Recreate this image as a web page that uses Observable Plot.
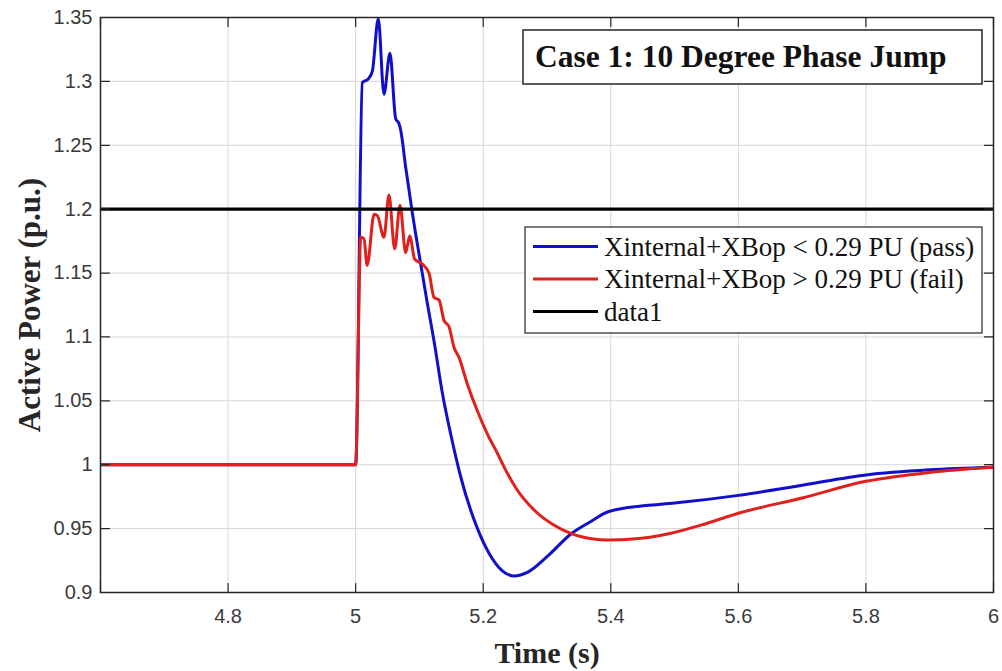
<!DOCTYPE html>
<html>
<head>
<meta charset="utf-8">
<script src="https://cdn.jsdelivr.net/npm/d3@7"></script>
<script src="https://cdn.jsdelivr.net/npm/@observablehq/plot@0.6"></script>
<style>
  html, body { margin: 0; padding: 0; background: #fff; }
  #chart svg { display: block; }
</style>
</head>
<body>
<div id="chart"></div>
<script>
// ---- data ----
const passTime  = [4.6, 5.0, 5.0105, 5.02, 5.0262, 5.0355, 5.0444, 5.0538, 5.0627, 5.0679, 5.0706, 5.0784, 5.0889, 5.102, 5.1125, 5.12, 5.1228, 5.136, 5.149, 5.165, 5.191, 5.21, 5.23, 5.248, 5.27, 5.3, 5.338, 5.37, 5.39, 5.42, 5.455, 5.5, 5.6, 5.7, 5.8, 5.9, 6.0];
const passPower = [1.0, 1.0, 1.299, 1.302, 1.308, 1.349, 1.290, 1.322, 1.271, 1.267, 1.262, 1.233, 1.197, 1.157, 1.126, 1.105, 1.097, 1.056, 1.024, 0.99, 0.95, 0.93, 0.917, 0.913, 0.916, 0.928, 0.946, 0.956, 0.962, 0.966, 0.968, 0.970, 0.976, 0.984, 0.992, 0.996, 0.998];

const failTime  = [4.6, 5.0, 5.008, 5.013, 5.018, 5.029, 5.034, 5.0444, 5.0522, 5.0612, 5.0695, 5.0784, 5.0847, 5.0925, 5.1046, 5.115, 5.1228, 5.1307, 5.1385, 5.1464, 5.1542, 5.162, 5.1752, 5.1909, 5.2066, 5.2222, 5.235, 5.251, 5.281, 5.31, 5.338, 5.37, 5.395, 5.44, 5.491, 5.55, 5.6, 5.7, 5.8, 5.9, 6.0];
const failPower = [1.0, 1.0, 1.178, 1.177, 1.156, 1.196, 1.195, 1.178, 1.211, 1.169, 1.203, 1.166, 1.179, 1.161, 1.157, 1.150, 1.131, 1.129, 1.113, 1.108, 1.092, 1.084, 1.063, 1.042, 1.024, 1.009, 0.996, 0.982, 0.964, 0.953, 0.946, 0.942, 0.941, 0.942, 0.946, 0.954, 0.962, 0.974, 0.987, 0.994, 0.998];

const refLevel = [1.2];

const xDomain = [4.6, 6];
const yDomain = [0.9, 1.35];
const xTicks = [4.6, 4.8, 5.0, 5.2, 5.4, 5.6, 5.8, 6.0];
const xTickLabels = ["", "4.8", "5", "5.2", "5.4", "5.6", "5.8", "6"];
const yTicks = [0.9, 0.95, 1.0, 1.05, 1.1, 1.15, 1.2, 1.25, 1.3, 1.35];
const yTickLabels = ["0.9", "0.95", "1", "1.05", "1.1", "1.15", "1.2", "1.25", "1.3", "1.35"];

const seriesNames = ["Xinternal+XBop < 0.29 PU (pass)", "Xinternal+XBop > 0.29 PU (fail)", "data1"];
const seriesColors = ["#1010cc", "#e0201c", "#000000"];
const titleText = "Case 1: 10 Degree Phase Jump";
const xLabel = "Time (s)";
const yLabel = "Active Power (p.u.)";

// ---- tables ----
const passData = passTime.map((t, i) => ({t, p: passPower[i]}));
const failData = failTime.map((t, i) => ({t, p: failPower[i]}));
const xFmt = d => xTickLabels[xTicks.findIndex(v => Math.abs(v - d) < 1e-9)];
const yFmt = d => yTickLabels[yTicks.findIndex(v => Math.abs(v - d) < 1e-9)];

const serif = "'Liberation Serif', 'Times New Roman', serif";
const sans = "'Liberation Sans', Arial, Helvetica, sans-serif";
const tickShape = {draw(context, l) { context.moveTo(0, 0); context.lineTo(0, -l); }};
const tickStyle = {length: 9, anchor: "start", shape: tickShape, stroke: "#262626", strokeWidth: 1.2};

const chart = Plot.plot({
  width: 1002,
  height: 671,
  marginLeft: 100,
  marginRight: 9,
  marginTop: 17,
  marginBottom: 79,
  x: {domain: xDomain},
  y: {domain: yDomain},
  style: {background: "#fff", fontFamily: sans},
  marks: [
    Plot.gridX(xTicks, {stroke: "#d6d6d6", strokeOpacity: 1, strokeWidth: 1}),
    Plot.gridY(yTicks, {stroke: "#d6d6d6", strokeOpacity: 1, strokeWidth: 1}),
    Plot.line(passData, {x: "t", y: "p", stroke: seriesColors[0], strokeWidth: 3, clip: true, curve: "monotone-x"}),
    Plot.line(failData, {x: "t", y: "p", stroke: seriesColors[1], strokeWidth: 3, clip: true, curve: "monotone-x"}),
    Plot.ruleY(refLevel, {stroke: seriesColors[2], strokeWidth: 3.2}),
    Plot.frame({stroke: "#262626", strokeWidth: 1.5}),
    // inward ticks on all four sides
    Plot.vector(xTicks, {x: d => d, y: () => yDomain[0], rotate: 0, ...tickStyle}),
    Plot.vector(xTicks, {x: d => d, y: () => yDomain[1], rotate: 180, ...tickStyle}),
    Plot.vector(yTicks, {x: () => xDomain[0], y: d => d, rotate: 90, ...tickStyle}),
    Plot.vector(yTicks, {x: () => xDomain[1], y: d => d, rotate: -90, ...tickStyle}),
    // tick labels
    Plot.axisX(xTicks, {anchor: "bottom", tickSize: 0, tickPadding: 16, tickFormat: xFmt, label: null, fontSize: 20, fill: "#3a3a3a", fontFamily: sans}),
    Plot.axisY(yTicks, {anchor: "left", tickSize: 0, tickPadding: 8, tickFormat: yFmt, label: null, fontSize: 20, fill: "#3a3a3a", fontFamily: sans}),
    // axis titles
    Plot.text([xLabel], {frameAnchor: "bottom", dy: 70, textAnchor: "middle", text: d => d, fontFamily: serif, fontWeight: "bold", fontSize: 30, fill: "#262626"}),
    Plot.text([yLabel], {frameAnchor: "left", dx: -70, rotate: -90, textAnchor: "middle", lineAnchor: "middle", text: d => d, fontFamily: serif, fontWeight: "bold", fontSize: 31, fill: "#262626"})
  ]
});

// ---- title box and legend (overlay, pixel layout) ----
const svg = d3.select(chart);
const tb = svg.append("g").attr("class", "title-box").attr("text-anchor", "start");
tb.append("rect").attr("x", 523).attr("y", 30).attr("width", 459).attr("height", 54)
  .attr("fill", "#fff").attr("stroke", "#262626").attr("stroke-width", 1.5);
tb.append("text").attr("x", 535).attr("y", 67).attr("text-anchor", "start").text(titleText)
  .attr("font-family", serif).attr("font-weight", "bold").attr("font-size", 31.5).attr("fill", "#111");

const lg = svg.append("g").attr("class", "legend").attr("text-anchor", "start");
lg.append("rect").attr("x", 525).attr("y", 227).attr("width", 457).attr("height", 106)
  .attr("fill", "#fff").attr("stroke", "#262626").attr("stroke-width", 1.2);
seriesNames.forEach((name, i) => {
  const cy = 246.5 + i * 32.5;
  lg.append("line").attr("x1", 533).attr("x2", 598).attr("y1", cy).attr("y2", cy)
    .attr("stroke", seriesColors[i]).attr("stroke-width", 3);
  lg.append("text").attr("x", 604).attr("y", cy + 9).attr("text-anchor", "start").text(name)
    .attr("font-family", serif).attr("font-size", 27).attr("fill", "#111");
});

document.getElementById("chart").appendChild(chart);
</script>
</body>
</html>
